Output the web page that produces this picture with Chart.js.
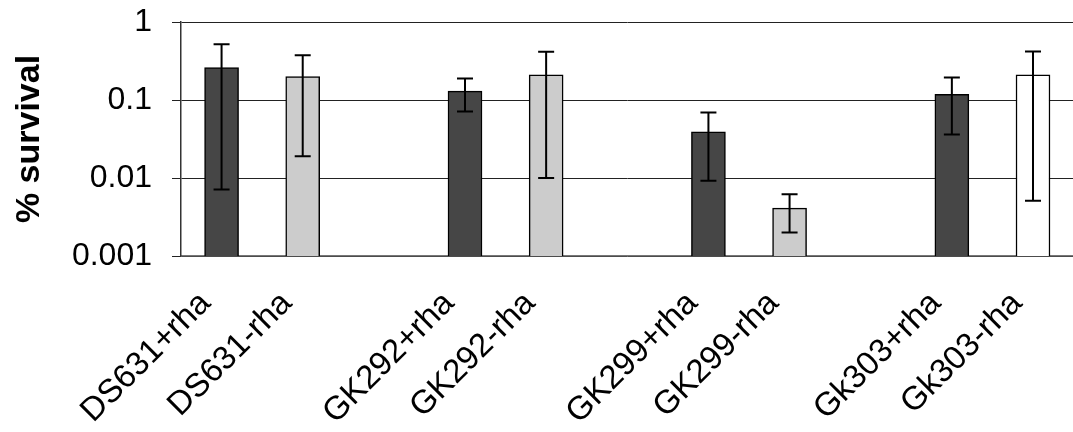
<!DOCTYPE html>
<html>
<head>
<meta charset="utf-8">
<script src="https://cdn.jsdelivr.net/npm/chart.js@4.4.1/dist/chart.umd.min.js"></script>
<style>
  html, body { margin: 0; padding: 0; overflow: hidden; background: #fff; }
</style>
</head>
<body>
<canvas id="survivalChart" width="1081" height="432"></canvas>
<script>
// strains, empty strings are the gaps between groups
var strains = ['DS631+rha', 'DS631-rha', '', 'GK292+rha', 'GK292-rha', '', 'GK299+rha', 'GK299-rha', '', 'Gk303+rha', 'Gk303-rha'];
var survival = [0.26, 0.20, null, 0.13, 0.21, null, 0.039, 0.0041, null, 0.118, 0.21];
var errHigh = [0.52, 0.375, null, 0.189, 0.415, null, 0.069, 0.0062, null, 0.194, 0.42];
var errLow = [0.0071, 0.019, null, 0.071, 0.01, null, 0.0092, 0.002, null, 0.036, 0.0051];
var yTicks = [0.001, 0.01, 0.1, 1];

var dark = '#464646';
var light = '#cccccc';
var barColors = [dark, light, null, dark, light, null, dark, light, null, dark, '#ffffff'];

// error bars drawn on top of the bars
var errorBars = {
  id: 'errorBars',
  afterDatasetsDraw: function(chart) {
    var ctx = chart.ctx;
    var y = chart.scales.y;
    var meta = chart.getDatasetMeta(0);
    ctx.save();
    ctx.strokeStyle = '#000';
    ctx.lineWidth = 2;
    for (var i = 0; i < survival.length; i++) {
      if (survival[i] == null) continue;
      var x = meta.data[i].x;
      var top = y.getPixelForValue(errHigh[i]);
      var bot = y.getPixelForValue(errLow[i]);
      ctx.beginPath();
      ctx.moveTo(x, top); ctx.lineTo(x, bot);
      ctx.moveTo(x - 8, top); ctx.lineTo(x + 8, top);
      ctx.moveTo(x - 8, bot); ctx.lineTo(x + 8, bot);
      ctx.stroke();
    }
    ctx.restore();
  }
};

var ctx = document.getElementById('survivalChart').getContext('2d');
var survivalChart = new Chart(ctx, {
  type: 'bar',
  data: {
    labels: strains,
    datasets: [{
      label: '% survival',
      data: survival,
      backgroundColor: barColors,
      borderColor: '#000',
      borderWidth: 1.5,
      barThickness: 34
    }]
  },
  options: {
    responsive: false,
    animation: false,
    layout: { padding: { top: 22, left: 0, right: 0, bottom: 0 } },
    plugins: {
      legend: { display: false },
      tooltip: { enabled: false }
    },
    scales: {
      x: {
        grid: { display: false },
        border: { display: true, color: '#777', width: 1.5 },
        ticks: {
          color: '#000',
          font: { family: 'Liberation Sans, Arial', size: 33 },
          minRotation: 45,
          maxRotation: 45,
          autoSkip: false,
          padding: 20,
          labelOffset: -16
        },
        afterFit: function(scale) { scale.height = 176; }
      },
      y: {
        type: 'logarithmic',
        min: 0.001,
        max: 1,
        afterBuildTicks: function(scale) {
          scale.ticks = yTicks.map(function(v) { return { value: v }; });
        },
        afterFit: function(scale) {
          scale.width = 181;
          scale.paddingTop = 0;
          scale.paddingBottom = 0;
        },
        grid: { color: '#222', lineWidth: 1, tickLength: 9 },
        border: { display: true, color: '#333', width: 1.5 },
        ticks: {
          color: '#000',
          font: { family: 'Liberation Sans, Arial', size: 32 },
          padding: 20,
          callback: function(v) { return String(v); }
        },
        title: {
          display: true,
          text: '% survival',
          color: '#000',
          font: { family: 'Liberation Sans, Arial', size: 34, weight: 'bold' },
          padding: { top: 9, bottom: 0 }
        }
      }
    }
  },
  plugins: [errorBars]
});
</script>
</body>
</html>
